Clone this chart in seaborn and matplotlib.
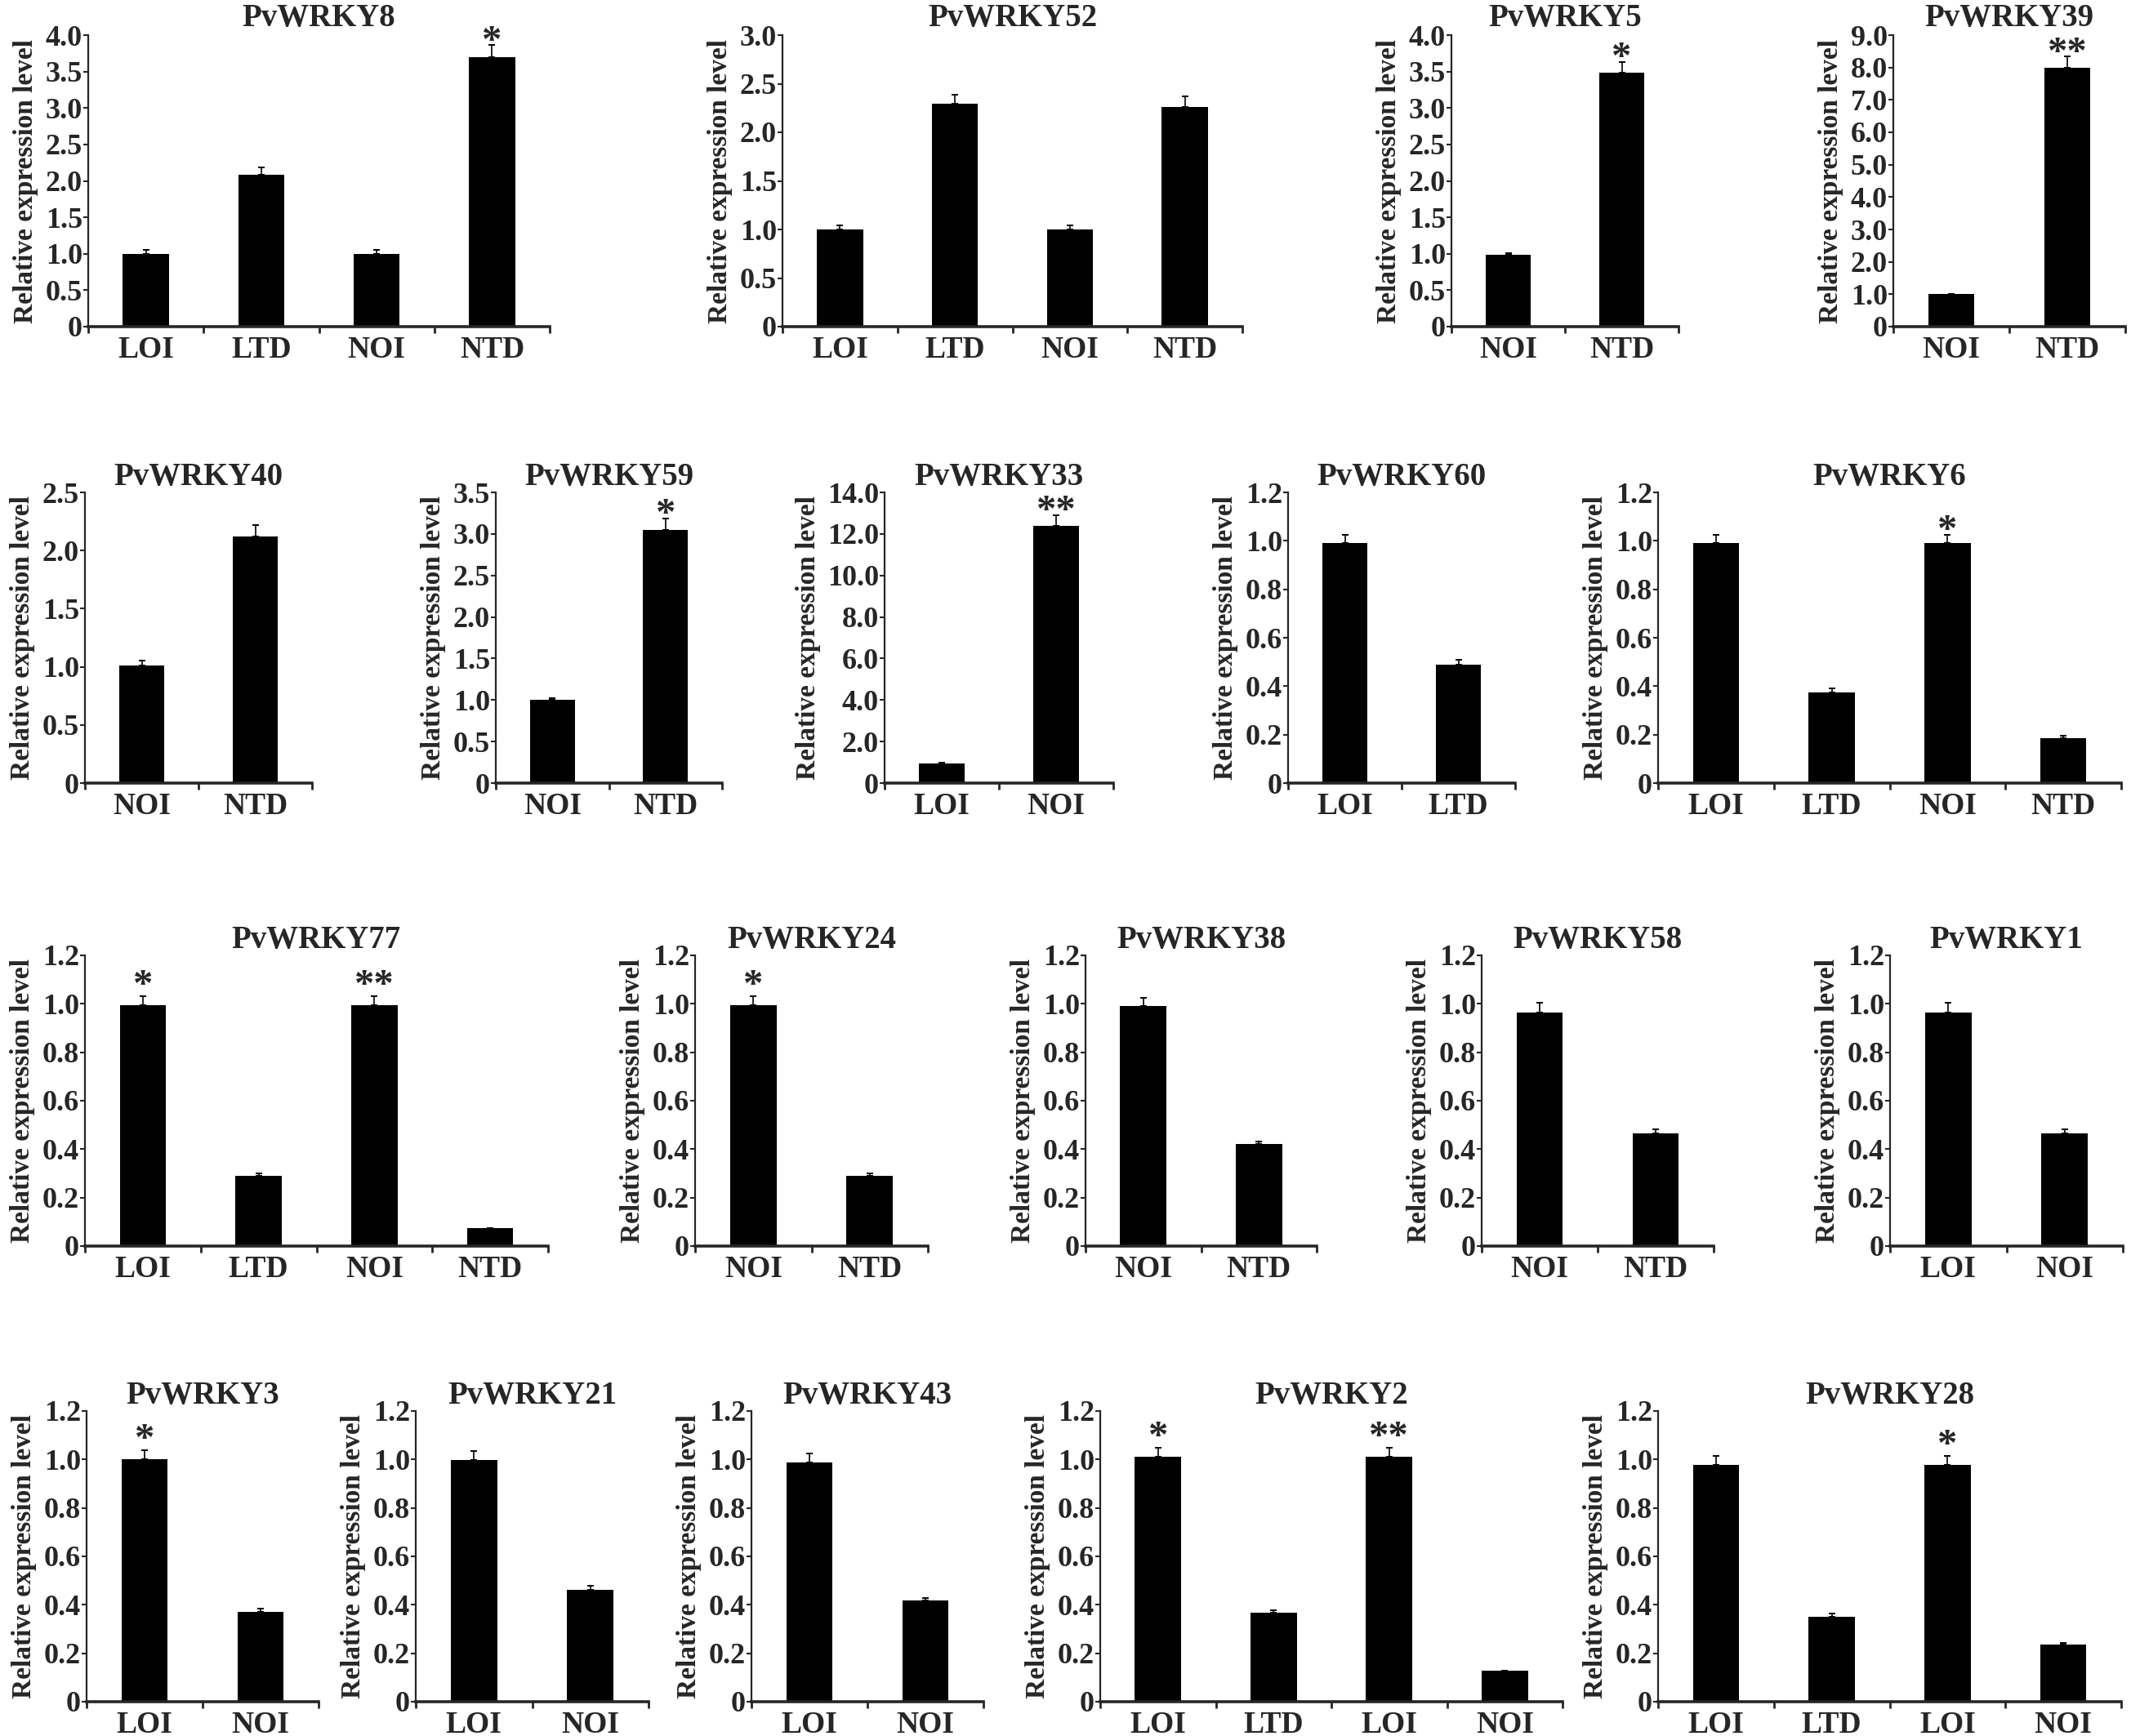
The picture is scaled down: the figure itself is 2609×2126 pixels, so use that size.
import numpy as np
import matplotlib
matplotlib.use("Agg")
import matplotlib.pyplot as plt
import seaborn as sns

# ---------------- datos ----------------
genes = ["PvWRKY8", "PvWRKY52", "PvWRKY5", "PvWRKY39",
         "PvWRKY40", "PvWRKY59", "PvWRKY33", "PvWRKY60", "PvWRKY6",
         "PvWRKY77", "PvWRKY24", "PvWRKY38", "PvWRKY58", "PvWRKY1",
         "PvWRKY3", "PvWRKY21", "PvWRKY43", "PvWRKY2", "PvWRKY28"]

groups = [["LOI", "LTD", "NOI", "NTD"], ["LOI", "LTD", "NOI", "NTD"], ["NOI", "NTD"], ["NOI", "NTD"],
          ["NOI", "NTD"], ["NOI", "NTD"], ["LOI", "NOI"], ["LOI", "LTD"], ["LOI", "LTD", "NOI", "NTD"],
          ["LOI", "LTD", "NOI", "NTD"], ["NOI", "NTD"], ["NOI", "NTD"], ["NOI", "NTD"], ["LOI", "NOI"],
          ["LOI", "NOI"], ["LOI", "NOI"], ["LOI", "NOI"], ["LOI", "LTD", "LOI", "NOI"], ["LOI", "LTD", "LOI", "NOI"]]

levels = [[1.0, 2.08, 1.0, 3.70], [1.0, 2.29, 1.0, 2.26], [0.99, 3.49], [1.0, 7.98],
          [1.01, 2.12], [1.0, 3.05], [0.95, 12.4], [0.99, 0.49], [0.99, 0.375, 0.99, 0.185],
          [0.995, 0.29, 0.995, 0.075], [0.995, 0.29], [0.99, 0.42], [0.965, 0.465], [0.965, 0.465],
          [1.0, 0.372], [0.998, 0.461], [0.988, 0.418], [1.01, 0.367, 1.01, 0.127], [0.978, 0.352, 0.978, 0.236]]

errs = [[0.05, 0.10, 0.05, 0.16], [0.04, 0.10, 0.04, 0.11], [0.02, 0.14], [0.0, 0.36],
        [0.04, 0.10], [0.02, 0.14], [0.05, 0.5], [0.035, 0.02], [0.035, 0.015, 0.035, 0.01],
        [0.038, 0.01, 0.038, 0.0], [0.038, 0.01], [0.035, 0.013], [0.04, 0.016], [0.04, 0.016],
        [0.038, 0.012], [0.038, 0.016], [0.038, 0.01], [0.038, 0.012, 0.038, 0.0], [0.036, 0.012, 0.036, 0.006]]

marks = [["", "", "", "*"], ["", "", "", ""], ["", "*"], ["", "**"],
         ["", ""], ["", "*"], ["", "**"], ["", ""], ["", "", "*", ""],
         ["*", "", "**", ""], ["*", ""], ["", ""], ["", ""], ["", ""],
         ["*", ""], ["", ""], ["", ""], ["*", "", "**", ""], ["", "", "*", ""]]

ymax = [4.0, 3.0, 4.0, 9.0, 2.5, 3.5, 14.0, 1.2, 1.2,
        1.2, 1.2, 1.2, 1.2, 1.2, 1.2, 1.2, 1.2, 1.2, 1.2]
ystep = [0.5, 0.5, 0.5, 1.0, 0.5, 0.5, 2.0, 0.2, 0.2,
         0.2, 0.2, 0.2, 0.2, 0.2, 0.2, 0.2, 0.2, 0.2, 0.2]

# ---------------- layout (pixeles de la figura original) ----------------
W, H = 2609, 2126
rows = [(43, 400), (603, 959), (1170, 1526), (1728, 2084)]   # (top, cero) de cada fila
title_pad = [8, 6, -6, 1]
star_off = [-6, -6, 0, 0]
xspans = [[(108, 673), (958, 1521), (1777, 2055), (2318, 2602)],
          [(104, 382), (607, 884), (1083, 1363), (1577, 1855), (2030, 2597)],
          [(104, 671), (851, 1136), (1329, 1612), (1814, 2098), (2314, 2599)],
          [(106, 390), (509, 794), (920, 1204), (1347, 1913), (2030, 2597)]]

sns.set_style("ticks")
plt.rcParams["font.family"] = ["Liberation Serif", "DejaVu Serif"]
plt.rcParams["font.weight"] = "bold"

fig = plt.figure(figsize=(W / 100, H / 100), dpi=100)

k = 0
for r, (top, zero) in enumerate(rows):
    for x0, x1 in xspans[r]:
        ax = fig.add_axes([x0 / W, 1 - zero / H, (x1 - x0) / W, (zero - top) / H])
        n = len(groups[k])
        pos = list(range(n))
        sns.barplot(x=pos, y=levels[k], ax=ax, color="black", saturation=1,
                    width=0.4, errorbar=None, edgecolor="black", linewidth=0)
        ax.errorbar(pos, levels[k], yerr=[np.zeros(n), errs[k]], fmt="none",
                    ecolor="black", elinewidth=1.2, capsize=3.2, capthick=1.4)
        # asteriscos de significancia
        for i in range(n):
            if marks[k][i]:
                ax.annotate(marks[k][i], xy=(i, levels[k][i] + errs[k][i]), xytext=(0, star_off[r]),
                            textcoords="offset points", ha="center", va="baseline",
                            fontsize=35, fontweight="bold")

        ax.set_xlim(-0.5, n - 0.5)
        ax.set_ylim(0, ymax[k])
        yt = np.arange(0, ymax[k] + ystep[k] / 2, ystep[k])
        ax.set_yticks(yt)
        ax.set_yticklabels(["0" if v == 0 else f"{v:.1f}" for v in yt], fontsize=26, fontweight="bold")
        ax.set_xticks(np.arange(n + 1) - 0.5)
        ax.set_xticklabels([])
        ax.set_xticks(pos, minor=True)
        ax.set_xticklabels(groups[k], minor=True, fontsize=27, fontweight="bold")
        ax.tick_params(axis="x", which="major", direction="out", length=6, width=2)
        ax.tick_params(axis="x", which="minor", length=0, pad=8)
        ax.tick_params(axis="y", direction="out", length=4, width=1.5, pad=1)

        sns.despine(ax=ax)
        ax.spines["left"].set_linewidth(1.6)
        ax.spines["bottom"].set_linewidth(2.6)
        ax.set_xlabel("")
        ax.set_ylabel("Relative expression level", fontsize=24, fontweight="bold", labelpad=6)
        ax.set_title(genes[k], fontsize=28, fontweight="bold", pad=title_pad[r])
        k += 1

fig.savefig("out.png", dpi=100)
